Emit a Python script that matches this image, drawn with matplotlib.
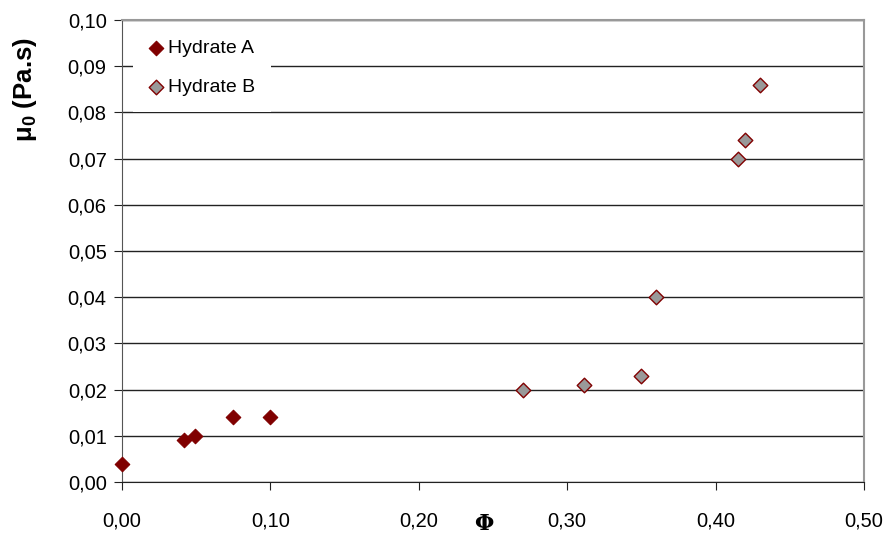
import numpy as np
import matplotlib.pyplot as plt
from matplotlib.ticker import FuncFormatter

plt.rcParams['font.family'] = ['Liberation Sans', 'DejaVu Sans']
plt.rcParams['mathtext.fontset'] = 'custom'
plt.rcParams['mathtext.bf'] = 'Liberation Sans:bold'
plt.rcParams['mathtext.rm'] = 'Liberation Sans'

phi_a = [0.0, 0.042, 0.049, 0.075, 0.10]
mu_a = [0.004, 0.009, 0.010, 0.014, 0.014]

phi_b = [0.27, 0.311, 0.35, 0.36, 0.415, 0.42, 0.43]
mu_b = [0.020, 0.021, 0.023, 0.040, 0.070, 0.074, 0.086]

x_ticks = np.arange(0, 0.51, 0.1)
y_ticks = np.arange(0, 0.101, 0.01)

fig = plt.figure(figsize=(8.89, 5.35), dpi=100)
ax = fig.add_axes([0.1372, 0.0991, 0.8347, 0.8635])

ax.scatter(phi_a, mu_a, marker='D', s=55, color='#800000', edgecolors='#800000',
           linewidths=0.8, label='Hydrate A', zorder=3, clip_on=False)
ax.scatter(phi_b, mu_b, marker='D', s=55, color='#999999', edgecolors='#800000',
           linewidths=1.0, label='Hydrate B', zorder=3, clip_on=False)

ax.set_xlim(0, 0.5)
ax.set_ylim(0, 0.1)
ax.set_xticks(x_ticks)
ax.set_yticks(y_ticks)
comma = FuncFormatter(lambda v, p: f"{v:.2f}".replace('.', ','))
ax.xaxis.set_major_formatter(comma)
ax.yaxis.set_major_formatter(comma)
ax.tick_params(axis='both', labelsize=14.5, color='#222222', direction='out', length=6)
ax.tick_params(axis='x', pad=15)
ax.tick_params(axis='y', pad=5)

ax.grid(axis='y', color='#222222', linewidth=1)
ax.set_axisbelow(True)

ax.spines['left'].set_color('#555555')
ax.spines['bottom'].set_color('#222222')
ax.spines['top'].set_color('#999999')
ax.spines['right'].set_color('#999999')
ax.spines['top'].set_linewidth(1.5)
ax.spines['right'].set_linewidth(1.5)

ax.set_ylabel(r'μ$_\mathbf{0}$ (Pa.s)', fontsize=18.5, fontweight='bold')
ax.yaxis.set_label_coords(-0.112, 0.85)
ax.set_xlabel('Φ', fontsize=16, fontweight='bold', family='DejaVu Serif')
ax.xaxis.set_label_coords(0.488, -0.091)
ax.xaxis.label.set_va('center')

leg = ax.legend(loc='upper left', bbox_to_anchor=(0.0148, 0.9914), frameon=True,
                fancybox=False, edgecolor='white', framealpha=1, fontsize=14,
                handlelength=0.8, handletextpad=0.2, labelspacing=1.1,
                borderpad=0.8, borderaxespad=0)
leg.get_frame().set_linewidth(0)

fig.savefig('out.png', dpi=100)
